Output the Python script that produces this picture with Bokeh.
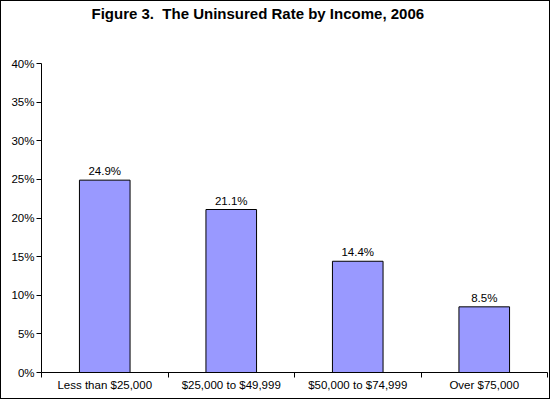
from bokeh.plotting import figure
from bokeh.models import ColumnDataSource, FixedTicker, PrintfTickFormatter, Range1d, Title
from bokeh.core.properties import value
from bokeh.embed import file_html
from bokeh.resources import INLINE

categories = ["Less than $25,000", "$25,000 to $49,999", "$50,000 to $74,999", "Over $75,000"]
values = [24.9, 21.1, 14.4, 8.5]
labels = ["24.9%", "21.1%", "14.4%", "8.5%"]
y_ticks = [0, 5, 10, 15, 20, 25, 30, 35, 40]

xs = [i + 0.5 for i in range(len(categories))]
src = ColumnDataSource(dict(x=xs, top=values, label=labels))

FONT = "Liberation Sans"

p = figure(width=550, height=399, output_backend="svg", toolbar_location=None,
           title=None,
           x_range=Range1d(0, len(categories)), y_range=Range1d(0, 40),
           min_border_left=40, min_border_right=4, min_border_top=0, min_border_bottom=28)
p.styles = {"border": "1px solid black"}
p.outline_line_color = None
p.xgrid.grid_line_color = None
p.ygrid.grid_line_color = None
p.background_fill_color = "white"
p.border_fill_color = "white"

p.vbar(x="x", top="top", width=0.4, bottom=0, source=src,
       fill_color="#9999FF", line_color="black", line_width=1)
p.text(x="x", y="top", text="label", source=src, text_align="center",
       text_baseline="bottom", y_offset=-3, text_font_size="11.5px",
       text_font=value(FONT), text_color="black")

# x axis
p.xaxis.ticker = FixedTicker(ticks=xs, minor_ticks=list(range(len(categories) + 1)))
p.xaxis.major_label_overrides = {x: c for x, c in zip(xs, categories)}
p.xaxis.major_tick_line_color = None
p.xaxis.minor_tick_out = 5
p.xaxis.minor_tick_in = 0
p.xaxis.minor_tick_line_color = "black"
p.xaxis.major_label_standoff = 0
p.xaxis.major_label_text_font = FONT
p.xaxis.major_label_text_font_size = "11.5px"
p.xaxis.major_label_text_color = "black"
p.xaxis.axis_line_color = "black"

# y axis
p.yaxis.ticker = FixedTicker(ticks=y_ticks)
p.yaxis.formatter = PrintfTickFormatter(format="%d%%")
p.yaxis.major_tick_out = 5
p.yaxis.major_tick_in = 0
p.yaxis.minor_tick_line_color = None
p.yaxis.major_label_standoff = 2
p.yaxis.major_label_text_font = FONT
p.yaxis.major_label_text_font_size = "11.5px"
p.yaxis.major_label_text_color = "black"
p.yaxis.axis_line_color = "black"

# spacer between title and plot area (closest to the frame)
p.add_layout(Title(text="\u00a0", text_font_size="30px", standoff=5,
                   text_color="white"), "above")
p.add_layout(Title(text="Figure 3.\u00a0 The Uninsured Rate by Income, 2006",
                   align="left", offset=50, standoff=3,
                   text_font=FONT, text_font_size="15px", text_font_style="bold",
                   text_color="black"), "above")

open("out.html", "w").write(file_html(p, INLINE))
